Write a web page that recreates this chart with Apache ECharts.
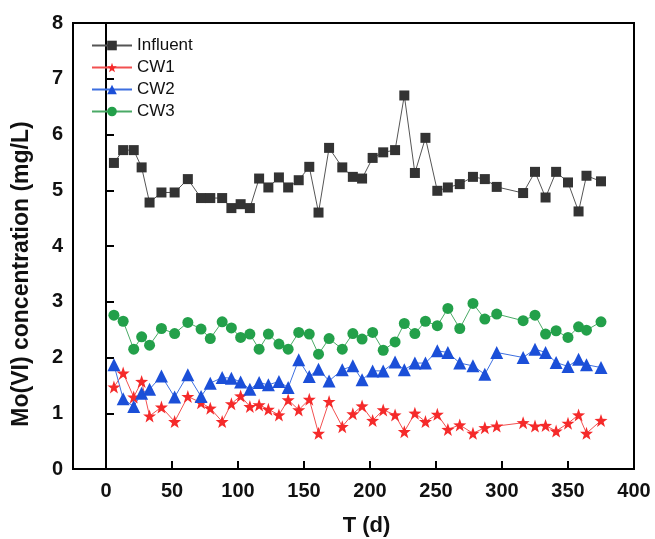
<!DOCTYPE html>
<html><head><meta charset="utf-8">
<script src="https://cdn.jsdelivr.net/npm/echarts@6/dist/echarts.min.js"></script>
<style>html,body{margin:0;padding:0;background:#fff}#c{width:655px;height:539px}</style>
</head><body><div id="c"></div>
<script>
const days = [6,13,21,27,33,42,52,62,72,79,88,95,102,109,116,123,131,138,146,154,161,169,179,187,194,202,210,219,226,234,242,251,259,268,278,287,296,316,325,333,341,350,358,364,375];
const influent = [5.49,5.72,5.72,5.41,4.78,4.96,4.96,5.20,4.86,4.86,4.86,4.68,4.75,4.68,5.21,5.05,5.23,5.05,5.18,5.42,4.60,5.76,5.41,5.24,5.21,5.58,5.68,5.72,6.70,5.31,5.94,4.99,5.05,5.11,5.24,5.20,5.06,4.95,5.33,4.87,5.33,5.14,4.62,5.26,5.16];
const cw1 = [1.47,1.72,1.29,1.57,0.95,1.11,0.85,1.30,1.19,1.09,0.85,1.17,1.31,1.12,1.15,1.07,0.97,1.24,1.06,1.25,0.64,1.21,0.76,0.99,1.13,0.87,1.06,0.97,0.67,1.00,0.85,0.98,0.71,0.79,0.64,0.74,0.77,0.83,0.77,0.78,0.68,0.82,0.97,0.64,0.87];
const cw2 = [1.87,1.26,1.12,1.36,1.43,1.67,1.29,1.69,1.30,1.54,1.64,1.63,1.56,1.43,1.55,1.51,1.57,1.46,1.96,1.66,1.79,1.58,1.78,1.85,1.60,1.76,1.76,1.92,1.78,1.90,1.90,2.12,2.09,1.90,1.85,1.70,2.09,2.00,2.15,2.09,1.91,1.84,1.97,1.87,1.82];
const cw3 = [2.76,2.65,2.15,2.37,2.22,2.52,2.43,2.63,2.51,2.34,2.64,2.53,2.36,2.42,2.15,2.42,2.24,2.15,2.45,2.42,2.06,2.34,2.15,2.43,2.33,2.45,2.13,2.28,2.61,2.43,2.65,2.57,2.88,2.52,2.97,2.69,2.78,2.66,2.76,2.42,2.48,2.36,2.55,2.49,2.64];
const xTicks = [0,50,100,150,200,250,300,350,400];
const seriesNames = ['Influent','CW1','CW2','CW3'];

const pair = arr => days.map((d,i)=>[d,arr[i]]);
const font = 'Liberation Sans, Arial, sans-serif';
const chart = echarts.init(document.getElementById('c'), null, {renderer:'canvas'});
function mk(name, arr, symbol, size, mColor, lColor){
  return {name, type:'line', data:pair(arr), symbol, symbolSize:size,
    lineStyle:{color:lColor,width:1}, itemStyle:{color:mColor}, animation:false, z: 3};
}
chart.setOption({
  animation:false,
  grid:{left:73,right:21,top:23,bottom:70,show:true,borderColor:'#000',borderWidth:2,containLabel:false,outerBoundsMode:'none'},
  legend:{left:86,top:32,orient:'vertical',itemWidth:40,itemHeight:12,itemGap:5,
    textStyle:{fontFamily:font,fontSize:17,color:'#111'},
    data:seriesNames},
  xAxis:{type:'value',min:-25,max:400,
    name:'T (d)',nameLocation:'middle',nameGap:46,
    nameTextStyle:{fontFamily:font,fontSize:22,fontWeight:'bold',color:'#111',padding:[0,0,0,26]},
    axisLine:{show:true,lineStyle:{color:'#000',width:2}},
    axisTick:{show:true,inside:true,length:8,lineStyle:{color:'#000',width:2},customValues:xTicks},
    axisLabel:{fontFamily:font,fontSize:20,fontWeight:'bold',color:'#111',margin:12,customValues:xTicks},
    splitLine:{show:false}},
  yAxis:{type:'value',min:0,max:8,interval:1,
    name:'Mo(VI) concentration (mg/L)',nameLocation:'middle',nameGap:40,
    nameTextStyle:{fontFamily:font,fontSize:23,fontWeight:'bold',color:'#111',padding:[0,56,0,0]},
    axisLine:{show:true,lineStyle:{color:'#000',width:2}},
    axisTick:{show:true,inside:true,length:8,lineStyle:{color:'#000',width:2}},
    axisLabel:{fontFamily:font,fontSize:20,fontWeight:'bold',color:'#111',margin:10},
    splitLine:{show:false}},
  series:[
    mk('Influent', influent, 'rect', 10, '#333333', '#555555'),
    mk('CW1', cw1, 'path://M0,-10L2.35,-3.24L9.51,-3.09L3.8,1.24L5.88,8.09L0,4L-5.88,8.09L-3.8,1.24L-9.51,-3.09L-2.35,-3.24Z', 13, '#f52a2a', '#f25050'),
    mk('CW2', cw2, 'triangle', 13, '#1b4fd8', '#3d6fe0'),
    mk('CW3', cw3, 'circle', 11, '#23a04a', '#4aaa66')
  ]
});
</script></body></html>
